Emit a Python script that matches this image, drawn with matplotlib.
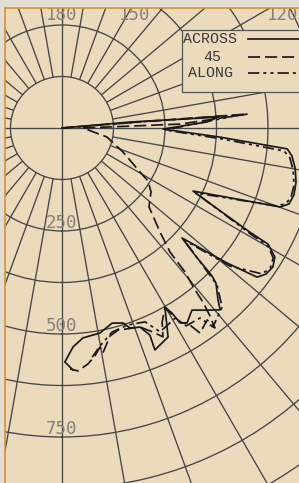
import numpy as np
import matplotlib
matplotlib.use("Agg")
import matplotlib.pyplot as plt
from matplotlib.patches import Rectangle
from matplotlib.lines import Line2D

# ---------------- data (bearing in degrees, range) ----------------
across_bearing = [88, 95.0, 94.0, 92.4, 89.4, 86.7, 84.7, 83.1, 80.3, 77.0, 73.9, 71.5,
                  70.1, 64.3, 63.3, 61.0, 60.6, 58.8, 56.6, 54.4, 52.6, 50.7, 47.5, 46.3,
                  45.4, 44.8, 42.2, 41.0, 38.5, 35.5, 32.7, 31.2, 30.7, 29.9, 26.9, 22.7,
                  23.0, 21.4, 18.8, 17.4, 14.4, 10.5, 5.7, 2.9, 0.7, 2.6]
across_range = [0, 166, 380, 352, 245, 384, 549, 562, 574, 583, 586, 581,
                563, 353, 389, 521, 574, 604, 613, 609, 596, 517, 395, 446,
                511, 530, 564, 585, 565, 543, 562, 553, 522, 501, 569, 584,
                546, 519, 513, 496, 489, 506, 512, 532, 568, 588]

d45_bearing = [92, 94.5, 94.3, 91.9, 90.0, 78.7, 68.5, 60.6, 58.4, 54.3, 47.8, 43.3,
               41.05, 40.5, 39.4, 39.0, 38.2, 37.4, 37.1, 33.95, 33.0, 31.3, 29.8, 27.3,
               25.8, 24.0, 21.4, 15.5, 13.0, 10.3, 9.8, 8.2, 6.3, 3.8, 1.9]
d45_range = [0, 214, 453, 287, 51, 111, 159, 217, 245, 266, 285, 347,
             399, 460, 509, 544, 581, 611, 584, 600, 570, 551, 503, 530,
             563, 542, 519, 509, 518, 555, 540, 559, 576, 591, 585]

along_bearing = [90, 94.4, 94.2, 92.1, 88.9, 86.1, 84.1, 82.5, 79.7, 76.2, 73.0, 71.2,
                 70.0, 64.1, 60.6, 60.2, 58.4, 56.1, 53.9, 50.6, 47.45, 45.0, 44.6, 41.8,
                 37.2, 36.0, 32.1, 30.75, 25.7, 23.2, 18.5, 13.8, 9.9, 7.5]
along_range = [0, 190, 433, 335, 250, 389, 542, 558, 570, 580, 581, 572,
               553, 361, 529, 576, 602, 609, 601, 528, 402, 515, 536, 583,
               606, 570, 567, 537, 549, 512, 504, 510, 537, 561]

series_labels = ["ACROSS", "45", "ALONG"]
ring_ranges = [125, 250, 375, 500, 625, 750, 875, 1000]
ring_labels = ["250", "500", "750"]
bearing_labels = ["180", "150", "120"]
spoke_bearings = list(range(0, 360, 10))
cardinal_bearings = [0, 90, 180, 270]

# ---------------- style / layout ----------------
W, H = 299, 483
BG = "#ecdabd"
MARGIN = "#e3ddd3"
FRAME = "#d4952f"
GRID = "#464646"
INK = "#1a1a1a"
LABEL_GRAY = "#85807a"

def fx(px):
    return px / W

def fy(py):
    return 1 - py / H

fig = plt.figure(figsize=(W / 100, H / 100), dpi=100, facecolor=BG)

cx, cy = 62.0, 128.0        # pole position in pixels
ppu = 0.412                 # pixels per range unit
rmax = 1060
R = rmax * ppu
ax = fig.add_axes([(cx - R) / W, (H - cy - R) / H, 2 * R / W, 2 * R / H],
                  projection="polar")
ax.set_facecolor("none")
ax.set_theta_zero_location("S")
ax.set_theta_direction(1)
ax.set_rlim(0, rmax)
ax.spines["polar"].set_visible(False)
ax.set_xticks([])
ax.set_yticks(ring_ranges)
ax.set_yticklabels([])
ax.tick_params(length=0)
ax.xaxis.grid(False)
ax.yaxis.grid(True, color=GRID, lw=0.95)

inner = ring_ranges[0]
ax.vlines(np.deg2rad(spoke_bearings), inner, rmax, colors=GRID, lw=0.95)
ax.vlines(np.deg2rad(cardinal_bearings), 0, inner, colors=GRID, lw=0.95)

styles = ["-", (0, (7, 2.8)), (0, (6.5, 2.3, 1.8, 2.3, 1.8, 2.3))]
data = [(across_bearing, across_range), (d45_bearing, d45_range),
        (along_bearing, along_range)]
for (b, r), ls, lab in zip(data, styles, series_labels):
    ax.plot(np.deg2rad(b), r, color=INK, lw=1.25, ls=ls, label=lab,
            solid_joinstyle="round")

for lab in ring_labels:
    ax.text(0, float(lab) - 20, lab, ha="center", va="center", fontsize=12.5,
            family="DejaVu Sans Mono", color=LABEL_GRAY, zorder=4)

# bearing labels along the top edge
for lab, (px, py) in zip(bearing_labels, [(62, 15), (135, 15), (283, 15)]):
    fig.text(fx(px), fy(py), lab, ha="center", va="center", fontsize=12.5,
             family="DejaVu Sans Mono", color=LABEL_GRAY, zorder=6)

# outer margin and frame
fig.add_artist(Rectangle((0, fy(8)), 1, 8 / H, transform=fig.transFigure,
                         facecolor=MARGIN, edgecolor="none", zorder=20))
fig.add_artist(Rectangle((0, 0), fx(4.5), 1, transform=fig.transFigure,
                         facecolor=MARGIN, edgecolor="none", zorder=20))
fig.add_artist(Line2D([fx(4.5), 1], [fy(8), fy(8)], transform=fig.transFigure,
                      color=FRAME, lw=1.2, zorder=21))
fig.add_artist(Line2D([fx(4.5), fx(4.5)], [0, fy(8)], transform=fig.transFigure,
                      color=FRAME, lw=1.2, zorder=21))

# legend box
fig.add_artist(Rectangle((fx(182), fy(92)), 140 / W, 62 / H, transform=fig.transFigure,
                         facecolor=BG, edgecolor="#555555", lw=0.9, zorder=10))
for lab, ls, (tx, ty) in zip(series_labels, styles, [(210, 39), (212, 57), (211, 73)]):
    fig.text(fx(tx), fy(ty), lab, ha="center", va="center", fontsize=10.8,
             family="Liberation Mono", color="#3a3a3a", zorder=11)
    fig.add_artist(Line2D([fx(248), fx(310)], [fy(ty), fy(ty)], transform=fig.transFigure,
                          color=INK, lw=1.25, ls=ls, zorder=11))

fig.savefig("out.png", dpi=100, facecolor=BG)
